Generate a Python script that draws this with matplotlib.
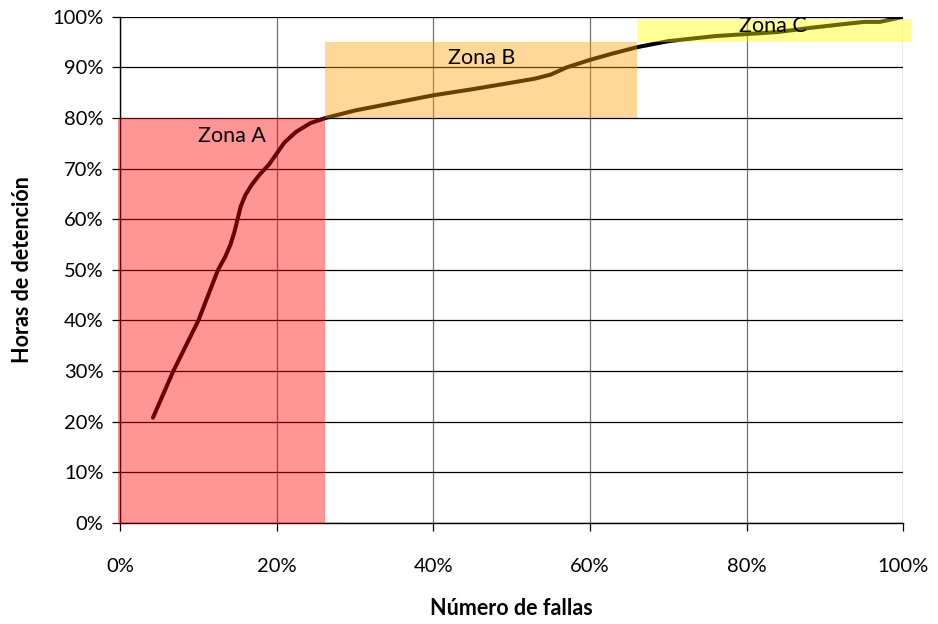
import matplotlib
matplotlib.use('Agg')
from matplotlib import pyplot as plt
from matplotlib.patches import Rectangle
from matplotlib.ticker import PercentFormatter, MultipleLocator

plt.rcParams['font.family'] = ['Lato', 'DejaVu Sans']

# Curva de Pareto acumulada (fracción de fallas vs. fracción de horas)
fallas = [0.042, 0.068, 0.10, 0.125, 0.134, 0.141, 0.146, 0.150, 0.154, 0.160,
          0.168, 0.178, 0.190, 0.200, 0.21, 0.225, 0.243, 0.262, 0.30, 0.35,
          0.40, 0.45, 0.50, 0.53, 0.55, 0.57, 0.60, 0.63, 0.66, 0.70,
          0.76, 0.84, 0.88, 0.92, 0.95, 0.97, 1.0]
horas = [0.208, 0.30, 0.40, 0.50, 0.525, 0.55, 0.575, 0.60, 0.625, 0.648,
         0.668, 0.688, 0.708, 0.73, 0.752, 0.773, 0.79, 0.80, 0.815, 0.83,
         0.845, 0.857, 0.87, 0.878, 0.886, 0.90, 0.915, 0.928, 0.94, 0.952,
         0.962, 0.97, 0.978, 0.985, 0.99, 0.99, 1.0]

# zonas: (nombre, x0, x1, y0, y1, color)
zonas = [
    ('Zona A', -0.002, 0.262, 0.0, 0.80, '#ff0000'),
    ('Zona B', 0.262, 0.66, 0.80, 0.95, '#ffa000'),
    ('Zona C', 0.66, 1.01, 0.95, 0.995, '#ffff00'),
]
etiquetas = [(0.143, 0.764), (0.462, 0.918), (0.833, 0.982)]

fig = plt.figure(figsize=(9.38, 6.24), dpi=100)
ax = fig.add_axes([0.128, 0.162, 0.835, 0.811])

ax.plot(fallas, horas, color='black', lw=2.9, solid_capstyle='round',
        solid_joinstyle='round', zorder=2)

for (nombre, x0, x1, y0, y1, c), (tx, ty) in zip(zonas, etiquetas):
    ax.add_patch(Rectangle((x0, y0), x1 - x0, y1 - y0, facecolor=c, alpha=0.41,
                           edgecolor='none', zorder=3, clip_on=False))
    ax.text(tx, ty, nombre, fontsize=15.5, ha='center', va='center', zorder=4)

ax.set_xlim(0, 1)
ax.set_ylim(0, 1)
ax.xaxis.set_major_locator(MultipleLocator(0.2))
ax.yaxis.set_major_locator(MultipleLocator(0.1))
ax.xaxis.set_major_formatter(PercentFormatter(1.0, decimals=0))
ax.yaxis.set_major_formatter(PercentFormatter(1.0, decimals=0))

ax.grid(axis='y', color='black', lw=0.9, zorder=1)
ax.grid(axis='x', color='#707070', lw=0.9, zorder=1)
ax.set_axisbelow(True)
for s in ['top', 'right']:
    ax.spines[s].set_visible(False)
ax.spines['left'].set_linewidth(1.0)
ax.spines['bottom'].set_linewidth(1.0)
ax.tick_params(axis='both', labelsize=14.5, length=6, width=0.9, direction='out')
ax.tick_params(axis='x', pad=19)
ax.tick_params(axis='y', pad=6)

ax.set_xlabel('Número de fallas', fontsize=15.5, fontweight='bold', labelpad=17)
ax.set_ylabel('Horas de detención', fontsize=15.5, fontweight='bold', labelpad=14)

fig.savefig('out.png', dpi=100)
